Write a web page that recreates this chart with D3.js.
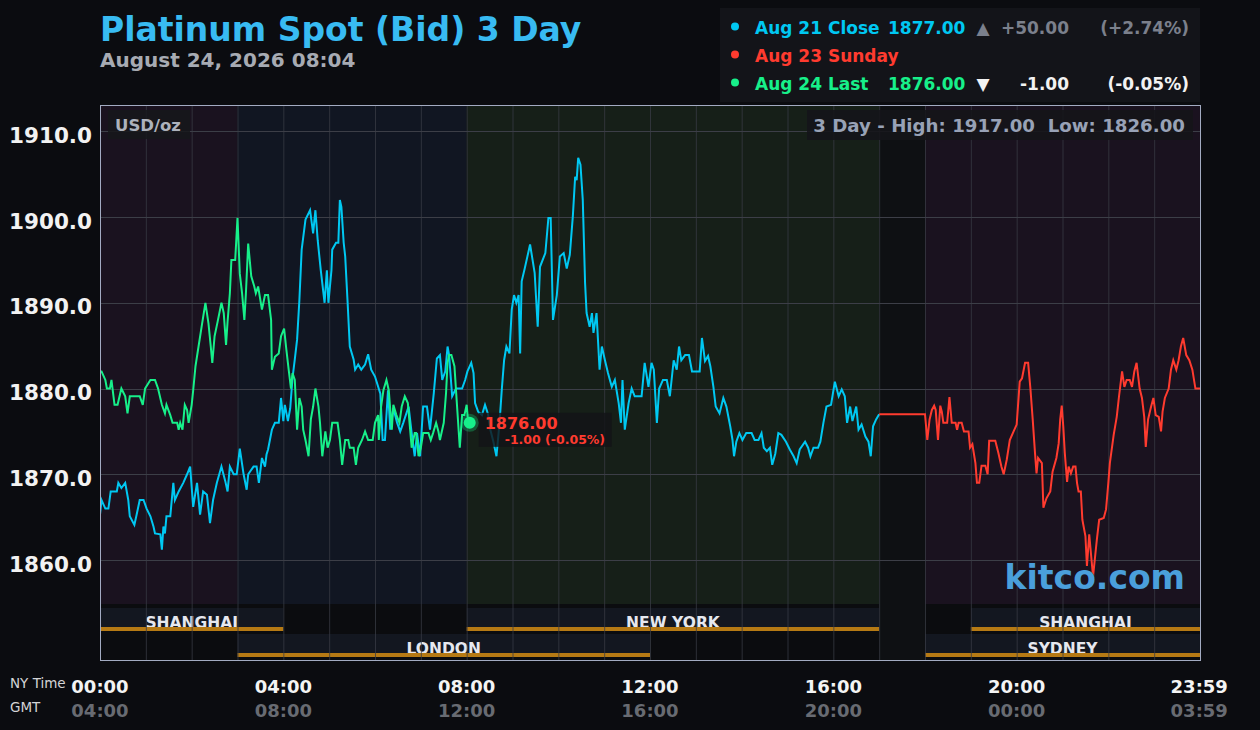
<!DOCTYPE html>
<html><head><meta charset="utf-8">
<script src="https://cdn.jsdelivr.net/npm/d3@7/dist/d3.min.js"></script>
<style>html,body{margin:0;padding:0;background:#0b0c10;overflow:hidden}svg{display:block;font-family:"DejaVu Sans",sans-serif}</style>
</head><body><svg id="c" width="1260" height="730"></svg>
<script>
// ---- data (minutes after 00:00 NY time, USD/oz) ----
const aug21Close = [[0,1865.3],[2,1867],[7,1866],[11,1866],[14,1868],[22,1868],[24,1869],[28,1868.4],[33,1869],[37,1867],[39,1865.1],[45,1864.1],[48,1865.3],[52,1867],[57,1867],[61,1866],[66,1865.1],[70,1863.9],[72,1863.1],[79,1863],[81,1861.2],[83,1863.9],[85,1863.1],[87,1865.1],[92,1865.1],[96,1869],[98,1867],[103,1868],[109,1869],[114,1870],[118,1870.9],[122,1866.2],[127,1869],[131,1865.3],[135,1868],[140,1867.6],[144,1864.3],[148,1867],[153,1869],[159,1870.9],[164,1869.2],[167,1868],[170,1870.9],[175,1870],[179,1870],[183,1873],[188,1870],[192,1868.2],[194,1870],[201,1870.9],[205,1870.9],[208,1869],[212,1871.9],[216,1870.9],[218,1872.3],[220,1872.9],[225,1875.2],[229,1876],[234,1876],[237,1878.9],[240,1876.2],[242,1878.1],[246,1876.2],[249,1877.7],[252,1881.2],[255,1883.4],[258,1885.7],[261,1890.3],[264,1896.2],[269,1899.7],[275,1900.8],[279,1898.1],[282,1900.8],[285,1897.3],[289,1893.8],[294,1890],[297,1893.8],[299,1890],[303,1893.8],[304,1896.2],[309,1897],[312,1897],[314,1902],[316,1901.2],[319,1897],[321,1895.4],[324,1890.3],[327,1884.9],[332,1883.4],[334,1882.2],[338,1882.8],[342,1882.2],[347,1882.8],[351,1884],[355,1882.2],[360,1881.4],[367,1879.4],[370,1874],[373,1874],[377,1879.8],[380,1875.2],[384,1877.7],[389,1876],[393,1875],[397,1876],[404,1877.9],[408,1874.8],[412,1872.1],[415,1874.8],[419,1872.1],[423,1877.9],[428,1877.9],[432,1875.2],[437,1879.5],[441,1883.5],[445,1883.9],[448,1881],[452,1882],[455,1884.9],[457,1883.9],[461,1879.1],[466,1880],[474,1880],[478,1881],[481,1882],[486,1883],[489,1881.8],[491,1878.3],[495,1877.3],[500,1876.9],[504,1878.1],[508,1877],[511,1875.2],[515,1873.8],[519,1872.1],[523,1876],[526,1879.9],[529,1883.3],[532,1884.9],[536,1884.1],[539,1889.2],[542,1890.9],[545,1890],[548,1890.9],[550,1884.1],[552,1892.5],[556,1894],[563,1896.8],[569,1893.5],[573,1887.2],[576,1894.2],[583,1895.8],[587,1899.9],[590,1899.9],[593,1888],[598,1890.9],[602,1895.4],[607,1895.8],[611,1894],[615,1895.6],[619,1900.1],[622,1904.7],[624,1904.3],[626,1906.9],[629,1906.1],[632,1902],[635,1892.3],[637,1888.8],[641,1887.2],[644,1888.8],[646,1886.5],[650,1888.8],[654,1882.2],[657,1884.9],[661,1883.3],[665,1881.8],[670,1880.2],[674,1881],[679,1878.3],[682,1876],[684,1881],[687,1875.2],[692,1878.3],[696,1880],[700,1879.1],[709,1879.1],[713,1883],[718,1880.2],[722,1883],[725,1882.2],[729,1876],[732,1880],[737,1881],[742,1881],[746,1879.1],[751,1883.3],[755,1882.2],[758,1884.9],[761,1883.3],[766,1883.9],[771,1883.9],[775,1882],[785,1882],[788,1885.9],[792,1883.2],[796,1883.8],[799,1882.6],[803,1880.2],[806,1877.9],[811,1877.1],[816,1878.9],[820,1877.9],[825,1875.6],[828,1874],[830,1872.1],[833,1873.8],[837,1874.8],[841,1874],[846,1874.8],[853,1874.8],[857,1874],[862,1874],[866,1874.8],[869,1873.1],[873,1872.7],[877,1873.1],[880,1871.1],[884,1872.4],[888,1874.8],[892,1874.6],[898,1873.8],[903,1872.9],[908,1872.1],[912,1871.3],[916,1872.9],[923,1873.8],[927,1873.1],[930,1872.1],[934,1873.1],[940,1873.1],[943,1873.8],[947,1876],[951,1877.9],[957,1878.1],[962,1880.8],[967,1879.1],[971,1879.9],[975,1879.1],[978,1876],[982,1877.9],[985,1876.2],[990,1877.9],[993,1875.2],[997,1875.8],[1002,1874.4],[1006,1873.8],[1009,1872.1],[1012,1875.6],[1016,1876.4],[1020,1877]];
const aug23Sunday = [[1020,1877],[1080,1877],[1083,1874],[1086,1876.4],[1089,1877.5],[1092,1878],[1094,1877.5],[1097,1874],[1100,1878],[1102,1877.3],[1104,1876],[1109,1876],[1112,1879],[1115,1876],[1120,1876],[1122,1875.2],[1124,1876],[1128,1876],[1131,1875],[1137,1875],[1139,1873.1],[1142,1873.5],[1146,1871.3],[1148,1869],[1151,1869],[1154,1871],[1159,1871],[1162,1870],[1164,1873.9],[1172,1873.9],[1176,1872.5],[1180,1870.9],[1183,1870],[1187,1871.7],[1191,1874],[1196,1875],[1200,1875.8],[1204,1880.8],[1207,1881.2],[1211,1883],[1215,1883],[1218,1880],[1221,1876.4],[1224,1872.5],[1226,1870.1],[1228,1871.9],[1233,1871.3],[1235,1866.1],[1239,1867.2],[1244,1868],[1247,1870.3],[1252,1871.9],[1255,1873.6],[1257,1876.4],[1259,1878],[1261,1875.6],[1263,1872.5],[1266,1869.1],[1268,1870.9],[1271,1870.1],[1274,1870.9],[1277,1870.9],[1279,1869],[1281,1868],[1284,1868],[1286,1864.7],[1290,1862.8],[1292,1859.3],[1295,1863],[1298,1860],[1300,1858.1],[1305,1862.4],[1308,1864.7],[1314,1864.9],[1317,1865.9],[1320,1869],[1322,1871.3],[1327,1874.6],[1331,1876.7],[1334,1879.1],[1338,1882],[1341,1880.2],[1344,1881],[1348,1881],[1351,1880.2],[1354,1882],[1357,1883],[1361,1880],[1364,1878.9],[1367,1876.7],[1369,1873.2],[1372,1876.4],[1376,1877.9],[1379,1878.9],[1382,1876.9],[1386,1876.7],[1389,1875],[1391,1877.3],[1394,1878.9],[1399,1880],[1402,1882.2],[1405,1883.3],[1409,1882.2],[1412,1883.3],[1415,1884.9],[1418,1885.9],[1422,1883.9],[1426,1883.3],[1430,1882.2],[1434,1880],[1440,1880]];
const aug24Last = [[0,1882],[2,1882],[7,1881],[9,1880],[13,1880],[15,1881],[19,1878.1],[23,1878.1],[28,1880],[33,1879.1],[36,1877.1],[39,1879.1],[52,1879.1],[56,1878.1],[59,1880],[66,1881],[72,1881],[76,1880],[81,1878.1],[85,1877.1],[87,1878.1],[92,1876.9],[95,1876],[101,1876],[103,1875.2],[105,1876],[108,1875.2],[111,1878.1],[114,1877.5],[116,1876],[120,1878.1],[122,1879.8],[125,1882.6],[129,1884.9],[133,1887.2],[138,1890],[142,1887.6],[145,1884.9],[147,1883],[150,1886.1],[154,1887.8],[159,1890],[162,1888.8],[165,1885.1],[167,1887.8],[170,1891.1],[172,1895],[177,1895],[180,1899.9],[183,1893.4],[186,1891.1],[189,1888],[191,1891.1],[194,1896.9],[198,1893.1],[202,1891.9],[204,1891.1],[207,1891.9],[212,1889.2],[216,1890.9],[220,1890.9],[224,1888],[225,1882.2],[229,1883.7],[234,1884.1],[237,1886.1],[241,1887],[244,1884.5],[247,1882.2],[250,1880],[252,1881.8],[255,1881],[258,1875.2],[261,1878.9],[264,1877.9],[266,1875.2],[269,1874],[273,1872.1],[276,1876.4],[279,1877.9],[282,1880],[286,1877.9],[288,1876],[291,1872.1],[295,1875],[298,1873.1],[301,1874],[304,1876],[311,1876],[314,1874],[317,1871.1],[321,1874],[325,1874],[327,1873.1],[332,1873.1],[335,1871.1],[338,1873.1],[343,1874],[347,1875],[351,1874],[357,1874],[360,1876],[364,1876.9],[365,1874],[368,1877.9],[371,1879.8],[375,1881],[378,1879.8],[382,1875.2],[384,1878.1],[388,1876.9],[392,1876],[395,1877.9],[399,1879.1],[403,1878.3],[406,1875.2],[408,1873.1],[412,1874.8],[414,1874.8],[417,1872.1],[420,1873.1],[423,1874.8],[430,1874.8],[433,1874],[436,1874.8],[440,1876],[443,1875],[445,1874],[450,1876],[453,1879.5],[455,1883],[457,1883.9],[460,1883.9],[464,1882.6],[467,1878.5],[471,1873.1],[474,1876.9],[477,1876.9],[480,1878.1],[482,1876],[484,1876]];
const yTicks = [1860, 1870, 1880, 1890, 1900, 1910];
const xTickMinutes = [0, 240, 480, 720, 960, 1200, 1439];
const nyLabels = ["00:00", "04:00", "08:00", "12:00", "16:00", "20:00", "23:59"];
const gmtLabels = ["04:00", "08:00", "12:00", "16:00", "20:00", "00:00", "03:59"];
const zones = [{start:0,end:3,kind:"asia"},{start:3,end:8,kind:"london"},{start:8,end:17,kind:"ny"},{start:17,end:18,kind:"closed"},{start:18,end:24,kind:"asia"}];
const sessionsRow1 = [{name:"SHANGHAI",start:0,end:4},{name:"NEW YORK",start:8,end:17},{name:"SHANGHAI",start:19,end:24}];
const sessionsRow2 = [{name:"LONDON",start:3,end:12},{name:"SYDNEY",start:18,end:24}];
const legendRows = [
  {label:"Aug 21 Close", value:"1877.00", arrow:"▲", change:"+50.00", pct:"(+2.74%)", key:"cyan"},
  {label:"Aug 23 Sunday", value:"", arrow:"", change:"", pct:"", key:"red"},
  {label:"Aug 24 Last", value:"1876.00", arrow:"▼", change:"-1.00", pct:"(-0.05%)", key:"green"}
];
const lastPoint = {minute:484, value:1876.00, label:"1876.00", change:"-1.00 (-0.05%)"};
const rangeText = "3 Day - High: 1917.00\u00a0\u00a0Low: 1826.00";

// ---- styles ----
const C = {cyan:"#00c8f2", red:"#ff3b2f", green:"#17f08a"};
const zoneFill = {asia:"#1a121f", london:"#111622", ny:"#161f18", closed:"#0e1013"};

const svg = d3.select("#c");
const L = 100, R = 1200, T = 105, B = 660, DATA_B = 604;
const x = d3.scaleLinear().domain([0, 1440]).range([L, R]);
const y = d3.scaleLinear().domain([1854.87, 1913.07]).range([DATA_B, T]);
const hx = h => x(h * 60);

svg.append("rect").attr("width",1260).attr("height",730).attr("fill","#0b0c10");

// plot background
svg.append("rect").attr("x",L).attr("y",T).attr("width",R-L).attr("height",B-T).attr("fill","#0b0c0f");
svg.append("g").selectAll("rect").data(zones).join("rect")
  .attr("x",d=>hx(d.start)).attr("width",d=>hx(d.end)-hx(d.start))
  .attr("y",T).attr("height",DATA_B-T).attr("fill",d=>zoneFill[d.kind]);
svg.append("rect").attr("x",hx(17)).attr("width",hx(18)-hx(17)).attr("y",DATA_B).attr("height",B-DATA_B).attr("fill","#0e1013");

// session rows
function sessionRow(data, top, h) {
  const g = svg.append("g");
  g.selectAll("rect.bg").data(data).join("rect").attr("class","bg")
    .attr("x",d=>hx(d.start)).attr("width",d=>hx(d.end)-hx(d.start))
    .attr("y",top).attr("height",h).attr("fill","#131720");
  g.selectAll("text").data(data).join("text")
    .attr("x",d=>(hx(d.start)+hx(d.end))/2).attr("y",top+19.5)
    .attr("text-anchor","middle").attr("font-weight","bold").attr("font-size",15.5)
    .attr("fill","#e6e8ef").text(d=>d.name);
  g.selectAll("rect.ln").data(data).join("rect").attr("class","ln")
    .attr("x",d=>hx(d.start)).attr("width",d=>hx(d.end)-hx(d.start))
    .attr("y",top+19).attr("height",4).attr("fill","#b67a14");
}
sessionRow(sessionsRow1, 608, 23);
sessionRow(sessionsRow2, 634, 23);

// grid
const grid = svg.append("g");
grid.selectAll("line.v").data(d3.range(1,24)).join("line").attr("class","v")
  .attr("x1",d=>hx(d)+0.5).attr("x2",d=>hx(d)+0.5).attr("y1",T).attr("y2",B)
  .attr("stroke","#3a3c45").attr("stroke-opacity",0.75).attr("stroke-width",1);
grid.selectAll("line.h").data(yTicks).join("line").attr("class","h")
  .attr("x1",L).attr("x2",R).attr("y1",d=>Math.round(y(d))+0.5).attr("y2",d=>Math.round(y(d))+0.5)
  .attr("stroke","#3c3e47").attr("stroke-width",1.2);

// lines
svg.append("clipPath").attr("id","clip").append("rect").attr("x",L).attr("y",T).attr("width",R-L).attr("height",DATA_B-T);
const line = d3.line().x(d=>x(d[0])).y(d=>y(d[1]));
const lg = svg.append("g").attr("clip-path","url(#clip)");
[[aug21Close,C.cyan],[aug23Sunday,C.red],[aug24Last,C.green]].forEach(([data,col])=>{
  lg.append("path").datum(data).attr("d",line).attr("fill","none")
    .attr("stroke",col).attr("stroke-width",2).attr("stroke-linejoin","miter");
});

// last point marker + label
const mx = x(lastPoint.minute), my = y(lastPoint.value);
svg.append("rect").attr("x",mx+9).attr("y",my-10).attr("width",133).attr("height",34)
  .attr("fill","#121417").attr("fill-opacity",0.82);
svg.append("circle").attr("cx",mx).attr("cy",my).attr("r",9).attr("fill",C.green).attr("fill-opacity",0.28);
svg.append("circle").attr("cx",mx).attr("cy",my).attr("r",6).attr("fill",C.green);
svg.append("text").attr("x",mx+15).attr("y",my+6.5).attr("font-weight","bold").attr("font-size",16)
  .attr("fill",C.red).text(lastPoint.label);
svg.append("text").attr("x",mx+35).attr("y",my+21).attr("font-weight","bold").attr("font-size",12.5)
  .attr("fill",C.red).text(lastPoint.change);

// plot border
svg.append("rect").attr("x",L+0.5).attr("y",T+0.5).attr("width",R-L).attr("height",B-T)
  .attr("fill","none").attr("stroke","#a3abc2").attr("stroke-width",1);

// USD/oz tag
svg.append("rect").attr("x",108).attr("y",110).attr("width",82).attr("height",29).attr("fill","#16171b").attr("fill-opacity",0.85);
svg.append("text").attr("x",115).attr("y",131).attr("font-weight","bold").attr("font-size",16.5)
  .attr("fill","#adb2bc").text("USD/oz");

// range box
svg.append("rect").attr("x",807).attr("y",110).attr("width",386).attr("height",30).attr("fill","#141519").attr("fill-opacity",0.88);
svg.append("text").attr("x",1185).attr("y",132).attr("text-anchor","end").attr("font-weight","bold").attr("font-size",18.2)
  .attr("fill","#98a2b6").text(rangeText);

// watermark
svg.append("text").attr("x",1185).attr("y",589).attr("text-anchor","end").attr("font-weight","bold").attr("font-size",33)
  .attr("fill","#4a9fdb").text("kitco.com");

// y axis labels
svg.append("g").selectAll("text").data(yTicks).join("text")
  .attr("x",92).attr("y",d=>y(d)+11.5).attr("text-anchor","end").attr("font-weight","bold").attr("font-size",21.5)
  .attr("fill","#f2f2f2").text(d=>d3.format(".1f")(d));

// x axis labels
const xa = svg.append("g");
xa.selectAll("text.ny").data(xTickMinutes).join("text").attr("class","ny")
  .attr("x",d=>x(d)).attr("y",693).attr("text-anchor","middle").attr("font-weight","bold").attr("font-size",18)
  .attr("fill","#f4f4f4").text((d,i)=>nyLabels[i]);
xa.selectAll("text.gmt").data(xTickMinutes).join("text").attr("class","gmt")
  .attr("x",d=>x(d)).attr("y",717).attr("text-anchor","middle").attr("font-weight","bold").attr("font-size",18)
  .attr("fill","#686b72").text((d,i)=>gmtLabels[i]);
svg.append("text").attr("x",10).attr("y",688).attr("font-size",13.5).attr("fill","#d4d4d6").text("NY Time");
svg.append("text").attr("x",10).attr("y",712).attr("font-size",13.5).attr("fill","#d4d4d6").text("GMT");

// title
svg.append("text").attr("x",100).attr("y",41).attr("font-weight","bold").attr("font-size",33)
  .attr("fill","#38bbf2").text("Platinum Spot (Bid) 3 Day");
svg.append("text").attr("x",100).attr("y",67).attr("font-weight","bold").attr("font-size",20)
  .attr("fill","#a7abb3").text("August 24, 2026 08:04");

// legend
svg.append("rect").attr("x",720).attr("y",8).attr("width",480).attr("height",94).attr("fill","#131419");
const lr = svg.append("g").selectAll("g").data(legendRows).join("g")
  .attr("transform",(d,i)=>`translate(0,${28 + i*28})`);
const muted = (d) => d.key === "cyan" ? "#7b808c" : "#f2f2f2";
lr.append("circle").attr("cx",735).attr("cy",-1.5).attr("r",4).attr("fill",d=>C[d.key]);
lr.append("text").attr("x",755).attr("y",6).attr("font-weight","bold").attr("font-size",17).attr("fill",d=>C[d.key]).text(d=>d.label);
lr.append("text").attr("x",888).attr("y",6).attr("font-weight","bold").attr("font-size",17).attr("fill",d=>C[d.key]).text(d=>d.value);
lr.append("text").attr("x",983).attr("y",6).attr("text-anchor","middle").attr("font-weight","bold").attr("font-size",17).attr("fill",muted).text(d=>d.arrow);
lr.append("text").attr("x",1069).attr("y",6).attr("text-anchor","end").attr("font-weight","bold").attr("font-size",17).attr("fill",muted).text(d=>d.change);
lr.append("text").attr("x",1189).attr("y",6).attr("text-anchor","end").attr("font-weight","bold").attr("font-size",17).attr("fill",muted).text(d=>d.pct);
</script></body></html>
